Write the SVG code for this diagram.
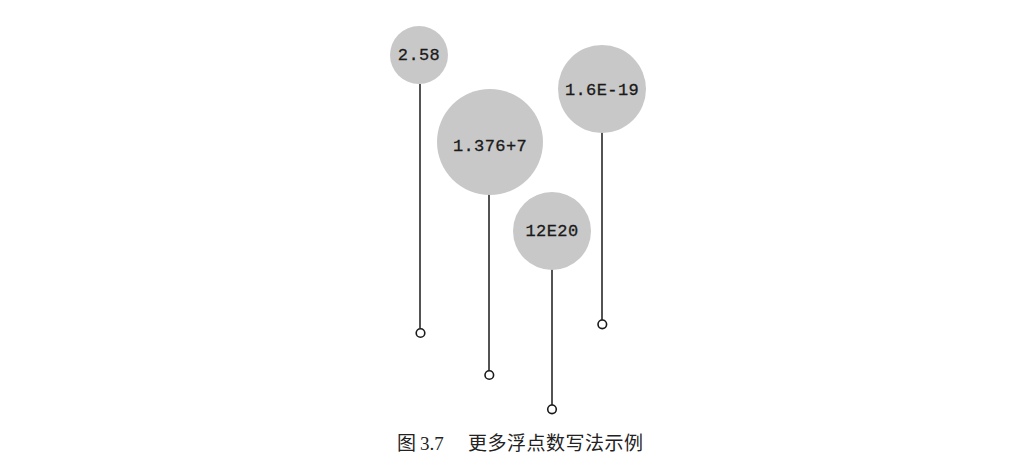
<svg xmlns="http://www.w3.org/2000/svg" width="1023" height="461" viewBox="0 0 1023 461">
<style>
.bub{fill:#c8c8c8;stroke:none}
.lbl{font-family:"Liberation Mono","DejaVu Sans Mono",monospace;font-size:17px;letter-spacing:0.4px;fill:#1a1a1a;text-anchor:middle;stroke:#1a1a1a;stroke-width:0.3}
.stem{stroke:#1a1a1a;stroke-width:1.5;fill:none}
.end{fill:#fff;stroke:#1a1a1a;stroke-width:1.6}
.cap{font-family:"Liberation Serif","Noto Sans CJK SC",serif;font-size:19px;fill:#222}
</style>
<rect width="1023" height="461" fill="#fff"/>
<g id="connectors">
<line class="stem" x1="420" y1="84" x2="420" y2="328"/>
<circle class="end" cx="420.5" cy="333" r="4.3"/>
<line class="stem" x1="489" y1="194" x2="489" y2="371"/>
<circle class="end" cx="489.3" cy="375" r="4.3"/>
<line class="stem" x1="602" y1="132" x2="602" y2="320"/>
<circle class="end" cx="602.3" cy="324.3" r="4.3"/>
<line class="stem" x1="552" y1="268" x2="552" y2="405"/>
<circle class="end" cx="552" cy="409.3" r="4.3"/>
</g>
<g id="n1"><circle class="bub" cx="419" cy="55" r="29"/><text class="lbl" x="419" y="60">2.58</text></g>
<g id="n2"><circle class="bub" cx="490" cy="142" r="53"/><text class="lbl" x="490" y="151">1.376+7</text></g>
<g id="n3"><circle class="bub" cx="602" cy="89" r="44"/><text class="lbl" x="602" y="95">1.6E-19</text></g>
<g id="n4"><circle class="bub" cx="552" cy="231" r="39"/><text class="lbl" x="552" y="236">12E20</text></g>
<g id="caption">
<text class="cap" x="397" y="450" font-family="'Noto Sans CJK SC',sans-serif">图</text>
<text class="cap" x="420" y="450">3.7</text>
<text class="cap" x="468" y="450" textLength="175" font-family="'Noto Sans CJK SC',sans-serif">更多浮点数写法示例</text>
</g>
</svg>
